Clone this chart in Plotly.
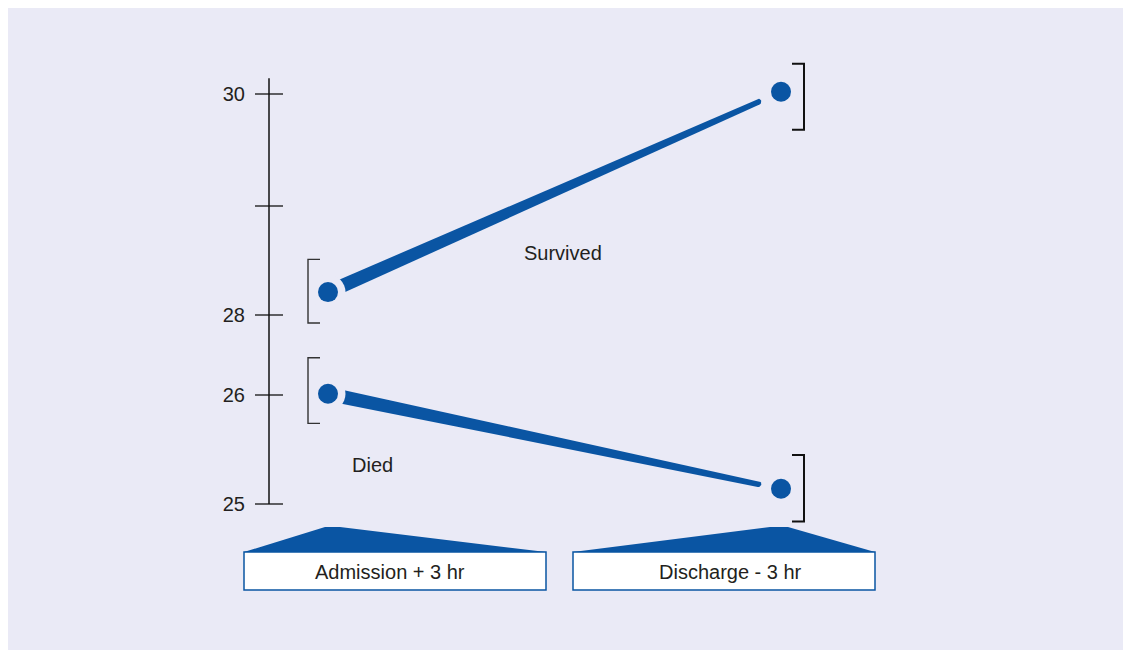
import numpy as np
import plotly.graph_objects as go

# ---------------- data ----------------
categories = ["Admission + 3 hr", "Discharge - 3 hr"]
groups = ["Survived", "Died"]
survived_mean = [28.21, 30.02]
survived_low = [27.80, 29.68]
survived_high = [28.51, 30.27]
died_mean = [26.03, 25.14]
died_low = [25.74, 24.84]
died_high = [26.93, 25.45]
tick_values = [25, 26, 28, 29, 30]
tick_labels = ["25", "26", "28", "", "30"]
axis_top_value = 30.14

# non-uniform (broken) value axis: value -> axis units
SCALE_VALUES = [25, 26, 28, 29, 30]
SCALE_UNITS = [0, 109, 189, 298, 410]


def scale(v):
    v = np.asarray(v, dtype=float)
    out = np.interp(v, SCALE_VALUES, SCALE_UNITS)
    lo = (SCALE_UNITS[1] - SCALE_UNITS[0]) / (SCALE_VALUES[1] - SCALE_VALUES[0])
    hi = (SCALE_UNITS[-1] - SCALE_UNITS[-2]) / (SCALE_VALUES[-1] - SCALE_VALUES[-2])
    out = np.where(v < SCALE_VALUES[0], SCALE_UNITS[0] + (v - SCALE_VALUES[0]) * lo, out)
    out = np.where(v > SCALE_VALUES[-1], SCALE_UNITS[-1] + (v - SCALE_VALUES[-1]) * hi, out)
    return out


# ---------------- layout constants ----------------
W, H = 1131, 654
OFF = 8  # page body margin in the viewer
X_RANGE = [-(328 - OFF) / 453, 1 + (W - (781 - OFF)) / 453]
Y_RANGE = [504 - (H + OFF), 504 - OFF]
KX = W / (X_RANGE[1] - X_RANGE[0])   # px per x unit
KY = H / (Y_RANGE[1] - Y_RANGE[0])   # px per y unit

BLUE = "#0A55A3"
BG = "#EAEAF6"
TXT = "#231F20"
FONT = "Liberation Sans, Arial, Helvetica, sans-serif"


def px(x):
    return (x - OFF) / W


def py(y):
    return 1 - (y - OFF) / H


def band(xs, ys, f0, f1, w0, w1, n_arc=16):
    """Tapered band between two data points, round cap at the end."""
    p0 = np.array([xs[0] * KX, ys[0] * KY])
    p1 = np.array([xs[1] * KX, ys[1] * KY])
    d = p1 - p0
    d = d / np.linalg.norm(d)
    n = np.array([-d[1], d[0]])
    a = p0 + f0 * (p1 - p0)
    b = p0 + f1 * (p1 - p0)
    pts = [a + n * w0 / 2, b + n * w1 / 2]
    ang0 = np.arctan2(n[1], n[0])
    for t in np.linspace(0, -np.pi, n_arc):
        ang = ang0 + t
        pts.append(b + np.array([np.cos(ang), np.sin(ang)]) * w1 / 2)
    pts.append(a - n * w0 / 2)
    pts.append(pts[0])
    pts = np.array(pts)
    return pts[:, 0] / KX, pts[:, 1] / KY


fig = go.Figure()

xcat = [0, 1]
series = [
    (survived_mean, survived_low, survived_high),
    (died_mean, died_low, died_high),
]

# tapered connecting lines
for mean, lo, hi in series:
    bx, by = band(xcat, scale(mean), 0.0, 0.95, 14, 6)
    fig.add_trace(go.Scatter(x=bx, y=by, mode="lines", fill="toself",
                             fillcolor=BLUE, line=dict(width=0, color=BLUE),
                             hoverinfo="skip", showlegend=False))

# halo around the first points and the dots themselves
for mean, lo, hi in series:
    fig.add_trace(go.Scatter(x=[xcat[0]], y=scale([mean[0]]), mode="markers",
                             marker=dict(size=35, color=BG, line=dict(width=0)),
                             hoverinfo="skip", showlegend=False))
for name, (mean, lo, hi) in zip(groups, series):
    fig.add_trace(go.Scatter(x=xcat, y=scale(mean), mode="markers", name=name,
                             marker=dict(size=20, color=BLUE, line=dict(width=0)),
                             showlegend=False))

# confidence brackets
LEFT_V, LEFT_S = -20 / KX, -8 / KX
RIGHT_V, RIGHT_S = 23 / KX, 11 / KX
for mean, lo, hi in series:
    yl, yh = scale([lo[0], hi[0]])
    fig.add_trace(go.Scatter(
        x=[xcat[0] + LEFT_S, xcat[0] + LEFT_V, xcat[0] + LEFT_V, xcat[0] + LEFT_S],
        y=[yh, yh, yl, yl], mode="lines",
        line=dict(color="#333333", width=1.4), hoverinfo="skip", showlegend=False))
    yl, yh = scale([lo[1], hi[1]])
    fig.add_trace(go.Scatter(
        x=[xcat[1] + RIGHT_S, xcat[1] + RIGHT_V, xcat[1] + RIGHT_V, xcat[1] + RIGHT_S],
        y=[yh, yh, yl, yl], mode="lines",
        line=dict(color="#111111", width=2), hoverinfo="skip", showlegend=False))

shapes = []
# background panel
shapes.append(dict(type="rect", xref="paper", yref="paper",
                   x0=px(6), x1=px(1128), y0=py(650), y1=py(4),
                   fillcolor=BG, line=dict(width=0), layer="below"))
# value axis line and crossing ticks
AX = 269
shapes.append(dict(type="line", xref="paper", yref="y", x0=px(AX), x1=px(AX),
                   y0=float(scale(tick_values[0])), y1=float(scale(axis_top_value)),
                   line=dict(color="#111111", width=1.5)))
for tv in tick_values:
    yy = float(scale(tv))
    shapes.append(dict(type="line", xref="paper", yref="y", x0=px(255), x1=px(283),
                       y0=yy, y1=yy, line=dict(color="#111111", width=1.3)))


def path(points):
    return "M " + " L ".join(f"{px(x):.5f},{py(y):.5f}" for x, y in points) + " Z"


# category boxes and their wedges
boxes = [(244, 546, [(244, 552), (325, 527), (340, 527), (546, 552)]),
         (573, 875, [(573, 552), (770, 527), (788, 527), (875, 552)])]
for x0, x1, wedge in boxes:
    shapes.append(dict(type="path", xref="paper", yref="paper", path=path(wedge),
                       fillcolor=BLUE, line=dict(width=0)))
    shapes.append(dict(type="rect", xref="paper", yref="paper",
                       x0=px(x0), x1=px(x1), y0=py(590), y1=py(552),
                       fillcolor="white", line=dict(color=BLUE, width=1.5)))

annotations = []
cat_text_pos = [(390, 572), (730, 572)]
for txt, (cx, cy) in zip(categories, cat_text_pos):
    annotations.append(dict(text=txt, xref="paper", yref="paper", x=px(cx), y=py(cy),
                            xanchor="center", yanchor="middle", showarrow=False,
                            font=dict(size=20, color=TXT, family=FONT)))
group_text_pos = [(563, 253), (372, 465)]
for txt, (cx, cy) in zip(groups, group_text_pos):
    annotations.append(dict(text=txt, xref="paper", yref="paper", x=px(cx), y=py(cy),
                            xanchor="center", yanchor="middle", showarrow=False,
                            font=dict(size=20, color=TXT, family=FONT)))

fig.update_layout(
    width=W, height=H,
    margin=dict(l=0, r=0, t=0, b=0),
    paper_bgcolor="white", plot_bgcolor="rgba(0,0,0,0)",
    xaxis=dict(range=X_RANGE, visible=False, domain=[0, 1], fixedrange=True),
    yaxis=dict(range=Y_RANGE, domain=[0, 1], anchor="free", position=px(AX),
               tickvals=list(scale(tick_values)), ticktext=tick_labels,
               ticks="", showline=False, showgrid=False, zeroline=False,
               ticklabelstandoff=24,
               tickfont=dict(size=20, color=TXT, family=FONT), fixedrange=True),
    shapes=shapes, annotations=annotations,
    showlegend=False,
)

fig.write_html("out.html")
